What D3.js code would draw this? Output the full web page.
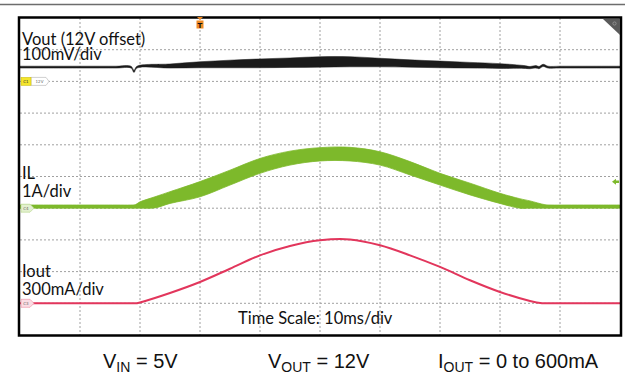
<!DOCTYPE html>
<html>
<head>
<meta charset="utf-8">
<script src="https://cdn.jsdelivr.net/npm/d3@7"></script>
<style>
body { margin:0; background:#fff; }
svg { display:block; }
.grid line { stroke:#a0a0a0; stroke-width:1; stroke-dasharray:2,2; }
.ch_labels { font-family:Lato, "Open Sans", sans-serif; font-size:16.5px; fill:#111; }
.cond_labels { font-family:"Liberation Sans", Arial, sans-serif; font-size:20px; fill:#111; }
.tiny { font-family:"DejaVu Sans", sans-serif; font-size:4px; fill:#666; }
</style>
</head>
<body>
<svg id="svg-scope" width="625" height="374"></svg>
<script>
// scope settings
var timeDiv = 10;              // ms per division, 10 divisions
var vertDivs = [-4,-3,-2,-1,0,1,2,3,4];
var timeTicks = [10,20,30,40,50,60,70,80,90];

// Vout, mV above the 12V offset (upper and lower edge of the ripple band)
var voutData = [{t:0, hi:48, lo:42}, {t:10, hi:48, lo:42}, {t:16, hi:48, lo:42},
                {t:18.5, hi:48, lo:42}, {t:19, hi:35, lo:28}, {t:19.5, hi:48, lo:42},
                {t:25, hi:55, lo:42}, {t:30, hi:62, lo:43},
                {t:35, hi:67, lo:43}, {t:40, hi:71, lo:43}, {t:45, hi:74, lo:44},
                {t:50, hi:78, lo:45}, {t:55, hi:78, lo:46}, {t:60, hi:73, lo:46},
                {t:65, hi:68, lo:45}, {t:70, hi:64, lo:43}, {t:75, hi:60, lo:42},
                {t:80, hi:56, lo:41}, {t:84, hi:50, lo:41}, {t:85, hi:47, lo:40},
                {t:86, hi:50, lo:42}, {t:86.5, hi:47, lo:40}, {t:87.2, hi:54, lo:47},
                {t:88, hi:48, lo:42}, {t:90, hi:48, lo:42}, {t:95, hi:48, lo:42},
                {t:100, hi:48, lo:42}];

// inductor current, A (upper and lower edge of the ripple band)
var ilData = [{t:0, hi:0.10, lo:0}, {t:10, hi:0.10, lo:0}, {t:16, hi:0.10, lo:0},
              {t:18.4, hi:0.10, lo:0}, {t:19.2, hi:0.11, lo:0}, {t:20, hi:0.20, lo:0},
              {t:22.5, hi:0.36, lo:0.01}, {t:25, hi:0.52, lo:0.15}, {t:30, hi:0.84, lo:0.36},
              {t:35, hi:1.20, lo:0.73}, {t:40, hi:1.57, lo:1.10}, {t:45, hi:1.80, lo:1.36},
              {t:50, hi:1.91, lo:1.49}, {t:55, hi:1.92, lo:1.49}, {t:60, hi:1.78, lo:1.36},
              {t:65, hi:1.47, lo:1.05}, {t:70, hi:1.10, lo:0.73}, {t:75, hi:0.79, lo:0.42},
              {t:80, hi:0.47, lo:0.15}, {t:83.3, hi:0.30, lo:0}, {t:85, hi:0.23, lo:0},
              {t:87.5, hi:0.11, lo:0}, {t:88.5, hi:0.10, lo:0}, {t:91, hi:0.10, lo:0},
              {t:95, hi:0.10, lo:0}, {t:100, hi:0.10, lo:0}];

// output current, mA
var ioutData = [{t:0, ma:0}, {t:10, ma:0}, {t:16, ma:0}, {t:18.7, ma:0}, {t:19.5, ma:1},
                {t:20, ma:8}, {t:25, ma:98}, {t:30, ma:202},
                {t:35, ma:327}, {t:40, ma:454}, {t:45, ma:542}, {t:50, ma:596},
                {t:55, ma:604}, {t:60, ma:549}, {t:65, ma:454}, {t:70, ma:344},
                {t:75, ma:218}, {t:80, ma:107}, {t:85, ma:22}, {t:87, ma:1},
                {t:88, ma:0}, {t:91, ma:0}, {t:95, ma:0}, {t:100, ma:0}];

// channels: position of zero (divs from centre) and units per div
var channels = [{id:"C1", name:"vout", offset:3, perDiv:100},
                {id:"C4", name:"il", offset:-1, perDiv:1},
                {id:"C3", name:"iout", offset:-4, perDiv:300}];

var green = "#7db92b";
var red = "#e2365c";

var svg = d3.select("#svg-scope");
var plotL = 20, plotR = 620, plotT = 18, plotB = 335;
var smooth = d3.curveCatmullRom.alpha(0.5);

var xScale = d3.scaleLinear().domain([0, timeDiv*10]).range([plotL, plotR]);
var yDiv = d3.scaleLinear().domain([-5, 5]).range([plotB, plotT]);
function chY(name) {
  var c = channels.filter(function(d) { return d.name == name; })[0];
  return function(v) { return yDiv(c.offset + v/c.perDiv); };
}
var yVout = chY("vout"), yIl = chY("il"), yIout = chY("iout");

// top rule of the page
svg.append("line")
    .attr("x1", 0).attr("x2", 625)
    .attr("y1", 4.5).attr("y2", 4.5)
    .style("stroke", "#6d6d6d")
    .style("stroke-width", 1.5);

// grid
var grid = svg.append("g").attr("class", "grid");
grid.selectAll("vgrid")
    .data(timeTicks)
    .enter()
    .append("line")
    .attr("x1", function(d) { return xScale(d); })
    .attr("x2", function(d) { return xScale(d); })
    .attr("y1", plotT)
    .attr("y2", plotB);
grid.selectAll("hgrid")
    .data(vertDivs)
    .enter()
    .append("line")
    .attr("x1", plotL)
    .attr("x2", plotR)
    .attr("y1", function(d) { return yDiv(d); })
    .attr("y2", function(d) { return yDiv(d); });

// traces
svg.append("path")
    .datum(ilData)
    .attr("d", d3.area()
      .x(function(d) { return xScale(d.t); })
      .y0(function(d) { return yIl(d.lo); })
      .y1(function(d) { return yIl(d.hi); })
      .curve(smooth))
    .style("fill", green)
    .style("stroke", green)
    .style("stroke-width", 0.8);

svg.append("path")
    .datum(voutData)
    .attr("d", d3.area()
      .x(function(d) { return xScale(d.t); })
      .y0(function(d) { return yVout(d.lo); })
      .y1(function(d) { return yVout(d.hi); })
      .curve(smooth))
    .style("fill", "#1b1b1b")
    .style("stroke", "#1b1b1b")
    .style("stroke-width", 0.5);

svg.append("path")
    .datum(ioutData)
    .attr("d", d3.line()
      .x(function(d) { return xScale(d.t); })
      .y(function(d) { return yIout(d.ma); })
      .curve(smooth))
    .style("fill", "none")
    .style("stroke", red)
    .style("stroke-width", 2);

// frame
svg.append("rect")
    .attr("x", plotL - 1).attr("y", plotT - 0.5)
    .attr("width", plotR - plotL + 2).attr("height", plotB - plotT + 1)
    .style("fill", "none")
    .style("stroke", "#000")
    .style("stroke-width", 2.5);

// channel markers
function marker(y, fill, stroke, label) {
  svg.append("path")
      .attr("d", "M21," + (y-4) + "H30L34," + y + "L30," + (y+4) + "H21Z")
      .style("fill", fill)
      .style("stroke", stroke)
      .style("stroke-width", 0.6);
  svg.append("text")
      .attr("class", "tiny")
      .attr("x", 26).attr("y", y + 1.5)
      .style("text-anchor", "middle")
      .text(label);
}
var c1y = yVout(0);
svg.append("path")
    .attr("d", "M31," + (c1y-4) + "H46L49," + c1y + "L46," + (c1y+4) + "H31Z")
    .style("fill", "#fff")
    .style("stroke", "#bbb")
    .style("stroke-width", 0.7);
svg.append("rect")
    .attr("x", 21).attr("y", c1y - 4)
    .attr("width", 10).attr("height", 8)
    .style("fill", "#f4e62c")
    .style("stroke", "#c8b800")
    .style("stroke-width", 0.5);
svg.append("text").attr("class", "tiny").attr("x", 26).attr("y", c1y + 1.5)
    .style("text-anchor", "middle").style("fill", "#333").text("C1");
svg.append("text").attr("class", "tiny").attr("x", 39.5).attr("y", c1y + 1.5)
    .style("text-anchor", "middle").text("12V");
marker(yIl(0), "#e3f0cf", "#b5d688", "C4");
marker(yIout(0), "#fbdde4", "#ec8aa0", "C3");

// trigger marker
var tx = xScale(30);
svg.append("path")
    .attr("d", "M" + (tx-3) + ",17L" + (tx+3) + ",17L" + tx + ",20Z")
    .style("fill", "#f08a24");
svg.append("rect")
    .attr("x", tx - 3.5).attr("y", 20.5)
    .attr("width", 7).attr("height", 8)
    .style("fill", "#f08a24");
svg.append("text")
    .attr("x", tx).attr("y", 27.5)
    .style("font-family", "DejaVu Sans, sans-serif")
    .style("font-size", "7px")
    .style("font-weight", "bold")
    .style("text-anchor", "middle")
    .style("fill", "#111")
    .text("T");

// trigger level arrow
var ty = 181.7;
svg.append("path")
    .attr("d", "M612," + ty + "L616," + (ty-3) + "V" + (ty-1.2) + "H619V" + (ty+1.2) + "H616V" + (ty+3) + "Z")
    .style("fill", green);

// corner tab
svg.append("path")
    .attr("d", "M603,19H620V35Z")
    .style("fill", "#5a5a5a");
svg.append("circle")
    .attr("cx", 614.5).attr("cy", 23.5).attr("r", 1.6)
    .style("fill", "none").style("stroke", "#999").style("stroke-width", 0.8);

// channel labels
var chLabels = [{text:"Vout (12V offset)", y:45}, {text:"100mV/div", y:60},
                {text:"IL", y:179}, {text:"1A/div", y:197},
                {text:"Iout", y:277}, {text:"300mA/div", y:295}];
svg.selectAll("ch_labels")
    .data(chLabels)
    .enter()
    .append("text")
    .attr("class", "ch_labels")
    .attr("x", 22)
    .attr("y", function(d) { return d.y; })
    .text(function(d) { return d.text; });

svg.append("text")
    .attr("class", "ch_labels")
    .attr("x", 238)
    .attr("y", 324)
    .text("Time Scale: 10ms/div");

// conditions
var condLabels = [{main:"V", sub:"IN", rest:" = 5V", x:103},
                  {main:"V", sub:"OUT", rest:" = 12V", x:268},
                  {main:"I", sub:"OUT", rest:" = 0 to 600mA", x:438}];
var cond = svg.selectAll("cond_labels")
    .data(condLabels)
    .enter()
    .append("text")
    .attr("class", "cond_labels")
    .attr("x", function(d) { return d.x; })
    .attr("y", 368);
cond.append("tspan").text(function(d) { return d.main; });
cond.append("tspan")
    .attr("dy", 4)
    .style("font-size", "14px")
    .text(function(d) { return d.sub; });
cond.append("tspan")
    .attr("dy", -4)
    .text(function(d) { return d.rest; });
</script>
</body>
</html>
